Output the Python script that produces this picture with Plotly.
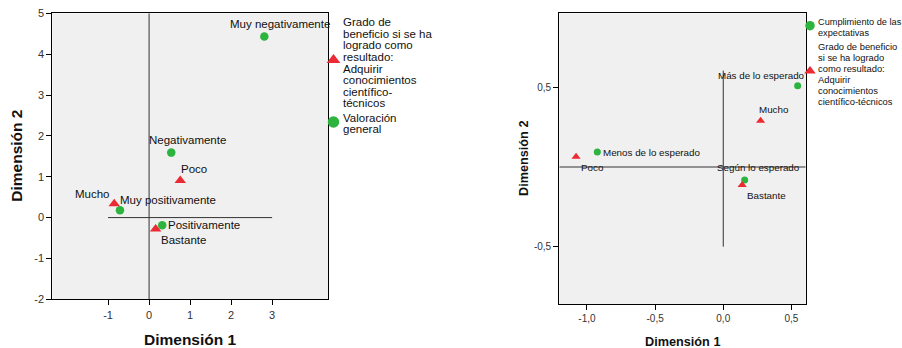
import plotly.graph_objects as go

# ---------------- data ----------------
# Left chart: Grado de beneficio (rows, triangles) vs Valoración general (cols, circles)
left_row_labels = ["Mucho", "Bastante", "Poco"]
left_row_x = [-0.85, 0.16, 0.76]
left_row_y = [0.34, -0.28, 0.91]
left_col_labels = ["Muy positivamente", "Positivamente", "Negativamente", "Muy negativamente"]
left_col_x = [-0.71, 0.32, 0.54, 2.81]
left_col_y = [0.18, -0.19, 1.59, 4.43]
left_xticks = [-1, 0, 1, 2, 3]
left_xticktext = ["-1", "0", "1", "2", "3"]
left_yticks = [-2, -1, 0, 1, 2, 3, 4, 5]
left_yticktext = ["-2", "-1", "0", "1", "2", "3", "4", "5"]
left_legend_row = ["Grado de", "beneficio si se ha", "logrado como", "resultado:", "Adquirir",
                   "conocimientos", "científico-", "técnicos"]
left_legend_col = ["Valoración", "general"]

# Right chart: Grado de beneficio (rows) vs Cumplimiento de las expectativas (cols)
right_row_labels = ["Mucho", "Bastante", "Poco"]
right_row_x = [0.274, 0.139, -1.08]
right_row_y = [0.29, -0.113, 0.065]
right_col_labels = ["Más de lo esperado", "Según lo esperado", "Menos de lo esperado"]
right_col_x = [0.546, 0.157, -0.924]
right_col_y = [0.51, -0.082, 0.094]
right_xticks = [-1.0, -0.5, 0.0, 0.5]
right_xticktext = ["-1,0", "-0,5", "0,0", "0,5"]
right_yticks = [0.5, -0.5]
right_yticktext = ["0,5", "-0,5"]
right_legend_col = ["Cumplimiento de las", "expectativas"]
right_legend_row = ["Grado de beneficio", "si se ha logrado", "como resultado:", "Adquirir",
                    "conocimientos", "científico-técnicos"]

# ---------------- style ----------------
W, H = 902, 348
GREEN = "#2DB43F"
RED = "#EC2A33"
BG = "#F0F0F0"
FONT = "Liberation Sans, Arial, sans-serif"
TXT = "#111111"

L_XR = [-2.36, 4.37]
L_YR = [-2.0, 5.0]
R_XR = [-1.203, 0.605]
R_YR = [-0.86, 0.965]

L_XD = [52.3 / W, 328.3 / W]
L_YD = [(H - 299.3) / H, (H - 13.3) / H]
R_XD = [559.3 / W, 805.7 / W]
R_YD = [(H - 304) / H, (H - 13.3) / H]

def px(x):
    return x / W

def py(y):
    return 1 - y / H

left_offsets = {
    "Muy negativamente": ("left", -36.6, 12.7),
    "Negativamente": ("left", -24.6, 13.0),
    "Poco": ("left", -1.0, 11.7),
    "Mucho": ("right", -2.0, 10.0),
    "Muy positivamente": ("left", -1.7, 10.7),
    "Positivamente": ("left", 4.0, 0.0),
    "Bastante": ("left", 3.0, -11.4),
}
right_offsets = {
    "Más de lo esperado": ("right", 9.0, 10.7),
    "Mucho": ("left", -4.0, 11.7),
    "Menos de lo esperado": ("left", 3.4, -0.7),
    "Poco": ("left", 3.3, -11.0),
    "Según lo esperado": ("left", -29.4, 12.3),
    "Bastante": ("left", 3.0, -10.7),
}

fig = go.Figure()

# left chart marks
fig.add_trace(go.Scatter(x=left_col_x, y=left_col_y, mode="markers", xaxis="x", yaxis="y",
                         marker=dict(symbol="circle", size=8.5, color=GREEN), showlegend=False,
                         hoverinfo="skip"))
fig.add_trace(go.Scatter(x=left_row_x, y=left_row_y, mode="markers", xaxis="x", yaxis="y",
                         marker=dict(symbol="triangle-up", size=10, color=RED), showlegend=False,
                         hoverinfo="skip"))
# right chart marks
fig.add_trace(go.Scatter(x=right_col_x, y=right_col_y, mode="markers", xaxis="x2", yaxis="y2",
                         marker=dict(symbol="circle", size=7, color=GREEN), showlegend=False,
                         hoverinfo="skip"))
fig.add_trace(go.Scatter(x=right_row_x, y=right_row_y, mode="markers", xaxis="x2", yaxis="y2",
                         marker=dict(symbol="triangle-up", size=8, color=RED), showlegend=False,
                         hoverinfo="skip"))

# legend keys: drawn on an invisible, transparent overlay axis spanning the whole figure
L_KEY_X = 333.5
L_KEY_TRI_Y, L_KEY_CIR_Y = 60.0, 122.0
R_KEY_X = 810.0
R_KEY_CIR_Y, R_KEY_TRI_Y = 25.7, 71.0

keys = [
    (L_KEY_X, L_KEY_TRI_Y, "triangle-up", 12, RED),
    (L_KEY_X, L_KEY_CIR_Y, "circle", 11.5, GREEN),
    (R_KEY_X, R_KEY_CIR_Y, "circle", 9.5, GREEN),
    (R_KEY_X, R_KEY_TRI_Y, "triangle-up", 10, RED),
]
for kx, ky, sym, sz, col in keys:
    fig.add_trace(go.Scatter(x=[px(kx)], y=[py(ky)], mode="markers", xaxis="x3", yaxis="y3",
                             cliponaxis=False, marker=dict(symbol=sym, size=sz, color=col),
                             showlegend=False, hoverinfo="skip"))

annotations = []

def point_labels(labels, xs, ys, offsets, xref, yref, size):
    for lab, x, y in zip(labels, xs, ys):
        anchor, dx, dy = offsets[lab]
        annotations.append(dict(x=x, y=y, xref=xref, yref=yref, text=lab, showarrow=False,
                                xanchor=anchor, yanchor="middle", xshift=dx, yshift=dy,
                                font=dict(family=FONT, size=size, color=TXT)))

point_labels(left_col_labels, left_col_x, left_col_y, left_offsets, "x", "y", 11.5)
point_labels(left_row_labels, left_row_x, left_row_y, left_offsets, "x", "y", 11.5)
point_labels(right_col_labels, right_col_x, right_col_y, right_offsets, "x2", "y2", 9.8)
point_labels(right_row_labels, right_row_x, right_row_y, right_offsets, "x2", "y2", 9.8)

def legend_lines(lines, kx, ky, dx, spacing, offset, size):
    n = len(lines)
    for i, line in enumerate(lines):
        yy = ky + (i - (n - 1) / 2) * spacing + offset
        annotations.append(dict(x=px(kx + dx), y=py(yy), xref="paper", yref="paper", text=line,
                                showarrow=False, xanchor="left", yanchor="middle",
                                font=dict(family=FONT, size=size, color=TXT)))

legend_lines(left_legend_row, L_KEY_X, L_KEY_TRI_Y, 7.5, 11.6, 2.7, 11.5)
legend_lines(left_legend_col, L_KEY_X, L_KEY_CIR_Y, 7.5, 11.6, 1.5, 11.5)
legend_lines(right_legend_col, R_KEY_X, R_KEY_CIR_Y, 5.5, 11, 1.5, 9.2)
legend_lines(right_legend_row, R_KEY_X, R_KEY_TRI_Y, 5.5, 11, 3.2, 9.4)

# axis titles
def ttl(text, x, y, angle, size):
    annotations.append(dict(x=px(x), y=py(y), xref="paper", yref="paper", text=f"<b>{text}</b>",
                            showarrow=False, xanchor="center", yanchor="middle", textangle=angle,
                            font=dict(family=FONT, size=size, color=TXT)))

ttl("Dimensión 1", 190.3, 339.5, 0, 15.5)
ttl("Dimensión 2", 15.7, 156, -90, 15.5)
ttl("Dimensión 1", 682.5, 342.0, 0, 12.7)
ttl("Dimensión 2", 523.3, 158.7, -90, 12.7)

# plot backgrounds + reference lines
line_style = dict(color="#333333", width=1)
shapes = [
    dict(type="rect", xref="x domain", yref="y domain", x0=0, x1=1, y0=0, y1=1,
         fillcolor=BG, line=dict(width=0), layer="below"),
    dict(type="rect", xref="x2 domain", yref="y2 domain", x0=0, x1=1, y0=0, y1=1,
         fillcolor=BG, line=dict(width=0), layer="below"),
    dict(type="line", xref="x", yref="y", x0=-1, x1=3, y0=0, y1=0, line=line_style, layer="below"),
    dict(type="line", xref="x", yref="y", x0=0, x1=0, y0=L_YR[0], y1=L_YR[1], line=line_style, layer="below"),
    dict(type="line", xref="x2", yref="y2", x0=R_XR[0], x1=R_XR[1], y0=0, y1=0, line=line_style, layer="below"),
    dict(type="line", xref="x2", yref="y2", x0=0, x1=0, y0=-0.5, y1=R_XR[1], line=line_style, layer="below"),
]

axis_common = dict(showgrid=False, zeroline=False, showline=True, mirror=True, linecolor="black",
                   linewidth=1.2, ticks="outside", ticklen=5, tickcolor="black", tickwidth=1,
                   automargin=False)
hidden = dict(visible=False, showgrid=False, zeroline=False, range=[0, 1], domain=[0, 1],
              fixedrange=True)

fig.update_layout(
    width=W, height=H, margin=dict(l=0, r=0, t=0, b=0, pad=0), autosize=False,
    paper_bgcolor="white", plot_bgcolor="rgba(0,0,0,0)",
    showlegend=False,
    xaxis=dict(domain=L_XD, range=L_XR, tickvals=left_xticks, ticktext=left_xticktext, anchor="y",
               tickfont=dict(family=FONT, size=11, color="#333333"), **axis_common),
    yaxis=dict(domain=L_YD, range=L_YR, tickvals=left_yticks, ticktext=left_yticktext, anchor="x",
               tickfont=dict(family=FONT, size=11, color="#333333"), **axis_common),
    xaxis2=dict(domain=R_XD, range=R_XR, tickvals=right_xticks, ticktext=right_xticktext, anchor="y2",
                tickfont=dict(family=FONT, size=10, color="#333333"), **axis_common),
    yaxis2=dict(domain=R_YD, range=R_YR, tickvals=right_yticks, ticktext=right_yticktext, anchor="x2",
                tickfont=dict(family=FONT, size=10, color="#333333"), **axis_common),
    xaxis3=dict(anchor="y3", **hidden),
    yaxis3=dict(anchor="x3", **hidden),
    annotations=annotations,
    shapes=shapes,
)

fig.write_html("out.html", config={"displayModeBar": False},
               post_script="document.body.style.margin='0';document.body.style.overflow='hidden';")
